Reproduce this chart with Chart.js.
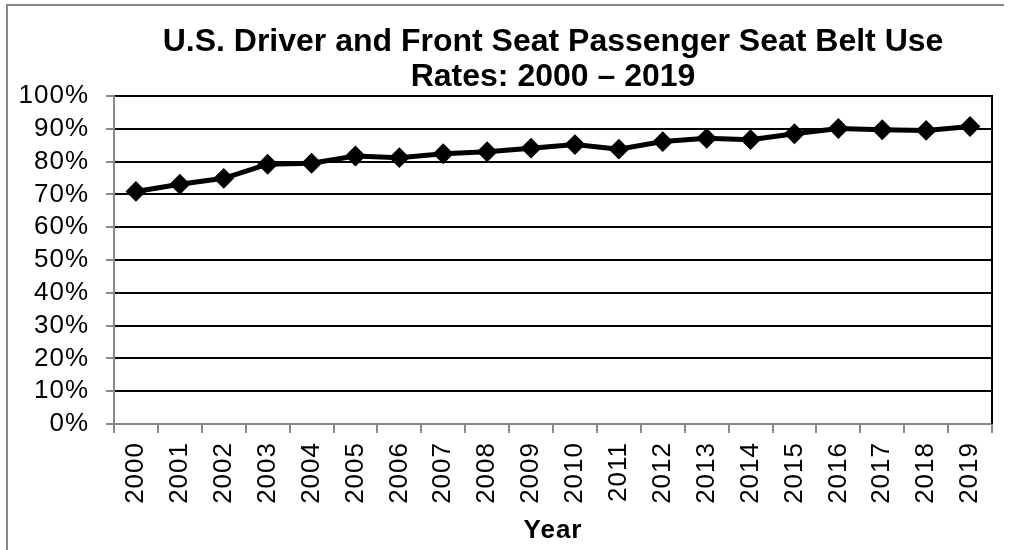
<!DOCTYPE html>
<html>
<head>
<meta charset="utf-8">
<script src="https://cdn.jsdelivr.net/npm/chart.js@4"></script>
<style>
  html, body { margin: 0; padding: 0; background: #fff; }
  #frame { position: absolute; left: 6px; top: 4px; width: 996px; height: 560px;
           border-left: 2px solid #888; border-top: 2px solid #888; }
  #seatBelt { position: absolute; left: 0; top: 0; }
</style>
</head>
<body>
<div id="frame"></div>
<canvas id="seatBelt" width="1011" height="550"></canvas>
<script>
const titleLines = ['U.S. Driver and Front Seat Passenger Seat Belt Use', 'Rates: 2000 \u2013 2019']

const years = ['2000', '2001', '2002', '2003', '2004', '2005', '2006', '2007', '2008', '2009',
               '2010', '2011', '2012', '2013', '2014', '2015', '2016', '2017', '2018', '2019']

const useRates = [70.9, 73.1, 74.9, 79.2, 79.5, 81.7, 81.2, 82.4, 83.0, 84.1,
                  85.2, 83.8, 86.1, 87.1, 86.7, 88.5, 90.1, 89.7, 89.5, 90.7]

const fontName = '"Liberation Sans", Arial, sans-serif'

// the original's axis text is a touch wider than Arial
const spacing = '1px'

// title centred over the plot area + black right edge of the plot
const framePlugin = {
    id: 'framePlugin',
    beforeLayout(chart) {
        chart.ctx.letterSpacing = spacing
    },
    beforeDraw(chart) {
        chart.ctx.letterSpacing = spacing
    },
    beforeDatasetsDraw(chart) {
        const {ctx, chartArea} = chart
        ctx.save()
        ctx.strokeStyle = '#000'
        ctx.lineWidth = 2
        ctx.beginPath()
        ctx.moveTo(chartArea.right, chartArea.top - 1)
        ctx.lineTo(chartArea.right, chartArea.bottom)
        ctx.stroke()
        ctx.restore()
    },
    afterDraw(chart) {
        const {ctx, chartArea} = chart
        const cx = (chartArea.left + chartArea.right) / 2
        ctx.save()
        ctx.letterSpacing = '0px'
        ctx.font = 'bold 32px ' + fontName
        ctx.fillStyle = '#000'
        ctx.textAlign = 'center'
        ctx.textBaseline = 'alphabetic'
        titleLines.forEach((line, i) => ctx.fillText(line, cx, 51 + i * 35))
        ctx.restore()
    }
}

new Chart('seatBelt', {
    type: 'line',
    data: {
        labels: years,
        datasets: [
            {
                label: 'Seat belt use',
                data: useRates,
                borderColor: '#000',
                borderWidth: 5,
                tension: 0,
                pointStyle: 'rectRot',
                pointRadius: 9,
                pointBorderWidth: 2,
                pointBackgroundColor: '#000',
                pointBorderColor: '#000'
            }
        ]
    },
    options: {
        responsive: false,
        animation: false,
        devicePixelRatio: 1,
        layout: {
            padding: { top: 96, right: 19, left: 0, bottom: 0 }
        },
        plugins: {
            legend: { display: false },
            tooltip: { enabled: false },
            title: { display: false }
        },
        scales: {
            x: {
                offset: true,
                afterFit: scale => { scale.height = 126 },
                grid: {
                    offset: true,
                    drawOnChartArea: false,
                    tickLength: 9,
                    color: '#888',
                    lineWidth: 2
                },
                border: { color: '#888', width: 2 },
                ticks: {
                    autoSkip: false,
                    minRotation: 90,
                    maxRotation: 90,
                    padding: 9,
                    color: '#000',
                    font: { family: fontName, size: 26 }
                },
                title: {
                    display: true,
                    text: 'Year',
                    color: '#000',
                    font: { family: fontName, size: 26, weight: 'bold' },
                    padding: { top: 2, bottom: 4 }
                }
            },
            y: {
                min: 0,
                max: 100,
                afterFit: scale => { scale.width = 114 },
                grid: {
                    color: ctx => ctx.tick && ctx.tick.value === 0 ? 'rgba(0,0,0,0)' : '#000',
                    tickColor: '#888',
                    lineWidth: 2,
                    tickLength: 8
                },
                border: { color: '#888', width: 2 },
                ticks: {
                    autoSkip: false,
                    stepSize: 10,
                    padding: 17,
                    color: '#000',
                    font: { family: fontName, size: 26 },
                    callback: v => v + '%'
                }
            }
        }
    },
    plugins: [framePlugin]
})
</script>
</body>
</html>
